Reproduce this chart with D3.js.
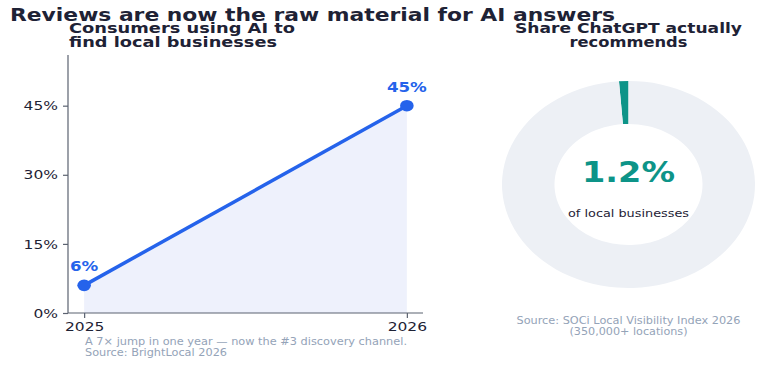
<!DOCTYPE html>
<html><head><meta charset="utf-8">
<script src="https://cdn.jsdelivr.net/npm/d3@7"></script>
<style>
html,body{margin:0;padding:0;background:#fff;}
svg{display:block;font-family:"DejaVu Sans",sans-serif;}
</style></head>
<body>
<svg id="c" width="780" height="366"></svg>
<script>
const years = ["2025", "2026"];
const usage = [6, 45];
const yTicks = [0, 15, 30, 45];
const shareLabels = ["Recommended", "Not recommended"];
const shareValues = [1.2, 98.8];

const svg = d3.select("#c");
const dark = "#1e2235";
const blue = "#2563eb";
const teal = "#0d9488";
const gray = "#94a3b8";
const SX = 1.19; // horizontal stretch of the reference rendering

function txt(x, y, str, o) {
  const t = svg.append("text").attr("x", x).attr("y", y)
    .attr("font-size", o.size).attr("fill", o.fill || dark)
    .attr("font-weight", o.weight || "normal")
    .attr("text-anchor", o.anchor || "start").text(str);
  const w = o.width || t.node().getComputedTextLength() * SX;
  t.attr("textLength", w).attr("lengthAdjust", "spacingAndGlyphs");
  return t;
}

txt(10, 21, "Reviews are now the raw material for AI answers", {size: 17, weight: "bold", width: 605});

// Left: line chart
const x = d3.scaleLinear().domain([-0.05, 1.05]).range([68, 423]);
const y = d3.scaleLinear().domain([0, 56]).range([313, 55]);

txt(69, 33, "Consumers using AI to", {size: 14, weight: "bold", width: 226});
txt(69, 47, "find local businesses", {size: 14, weight: "bold", width: 208});

svg.append("path")
  .attr("d", d3.area().x((d, i) => x(i)).y0(y(0)).y1(d => y(d))(usage))
  .attr("fill", "#eef1fc");

svg.append("path")
  .attr("d", d3.line().x((d, i) => x(i)).y(d => y(d))(usage))
  .attr("fill", "none").attr("stroke", blue).attr("stroke-width", 3.5);

svg.selectAll("ellipse.pt").data(usage).join("ellipse").attr("class", "pt")
  .attr("cx", (d, i) => x(i)).attr("cy", d => y(d)).attr("rx", 6.8).attr("ry", 5.8).attr("fill", blue);

usage.forEach((v, i) => {
  txt(x(i), y(v) - 14, v + "%", {size: 14, weight: "bold", fill: blue, anchor: "middle"});
});

const yAxis = svg.append("g").attr("transform", "translate(68,0)")
  .call(d3.axisLeft(y).tickValues(yTicks).tickFormat(d => d + "%").tickSize(5).tickPadding(5));
const xAxis = svg.append("g").attr("transform", "translate(0,313)")
  .call(d3.axisBottom(x).tickValues([0, 1]).tickFormat((d) => years[d]).tickSize(5).tickPadding(4));
[yAxis, xAxis].forEach(g => {
  g.select(".domain").attr("stroke", "#5b6270").attr("stroke-width", 1.2);
  g.selectAll(".tick line").attr("stroke", "#5b6270").attr("stroke-width", 1.2);
  g.selectAll(".tick text").attr("fill", dark).attr("font-size", 13).attr("font-family", "DejaVu Sans")
    .each(function() {
      this.setAttribute("textLength", this.getComputedTextLength() * SX);
      this.setAttribute("lengthAdjust", "spacingAndGlyphs");
    });
});
yAxis.select(".domain").attr("d", "M0,55V313");
xAxis.select(".domain").attr("d", "M68,0H423");

txt(85, 345, "A 7\u00d7 jump in one year \u2014 now the #3 discovery channel.", {size: 10.5, fill: gray, width: 322});
txt(85, 356, "Source: BrightLocal 2026", {size: 10.5, fill: gray, width: 142});

// Right: donut
const cx = 628.5, cy = 184.5, rx = 126.5, ryScale = 103.5 / 126.5;
txt(cx, 33, "Share ChatGPT actually", {size: 14, weight: "bold", anchor: "middle", width: 227});
txt(cx, 47, "recommends", {size: 14, weight: "bold", anchor: "middle", width: 118});

const pie = d3.pie().sort(null).startAngle(0).endAngle(-2 * Math.PI);
const arc = d3.arc().innerRadius(rx * 0.585).outerRadius(rx);
const g = svg.append("g").attr("transform", `translate(${cx},${cy}) scale(1,${ryScale})`);
g.selectAll("path").data(pie(shareValues)).join("path")
  .attr("d", arc).attr("fill", (d, i) => i === 0 ? teal : "#edf0f5");

txt(cx, 181.5, shareValues[0] + "%", {size: 29, weight: "bold", fill: teal, anchor: "middle", width: 93});
txt(cx, 217, "of local businesses", {size: 11, anchor: "middle", width: 121});

txt(cx, 324, "Source: SOCi Local Visibility Index 2026", {size: 10.5, fill: gray, anchor: "middle", width: 224});
txt(cx, 335, "(350,000+ locations)", {size: 10.5, fill: gray, anchor: "middle", width: 118});
</script>
</body></html>
